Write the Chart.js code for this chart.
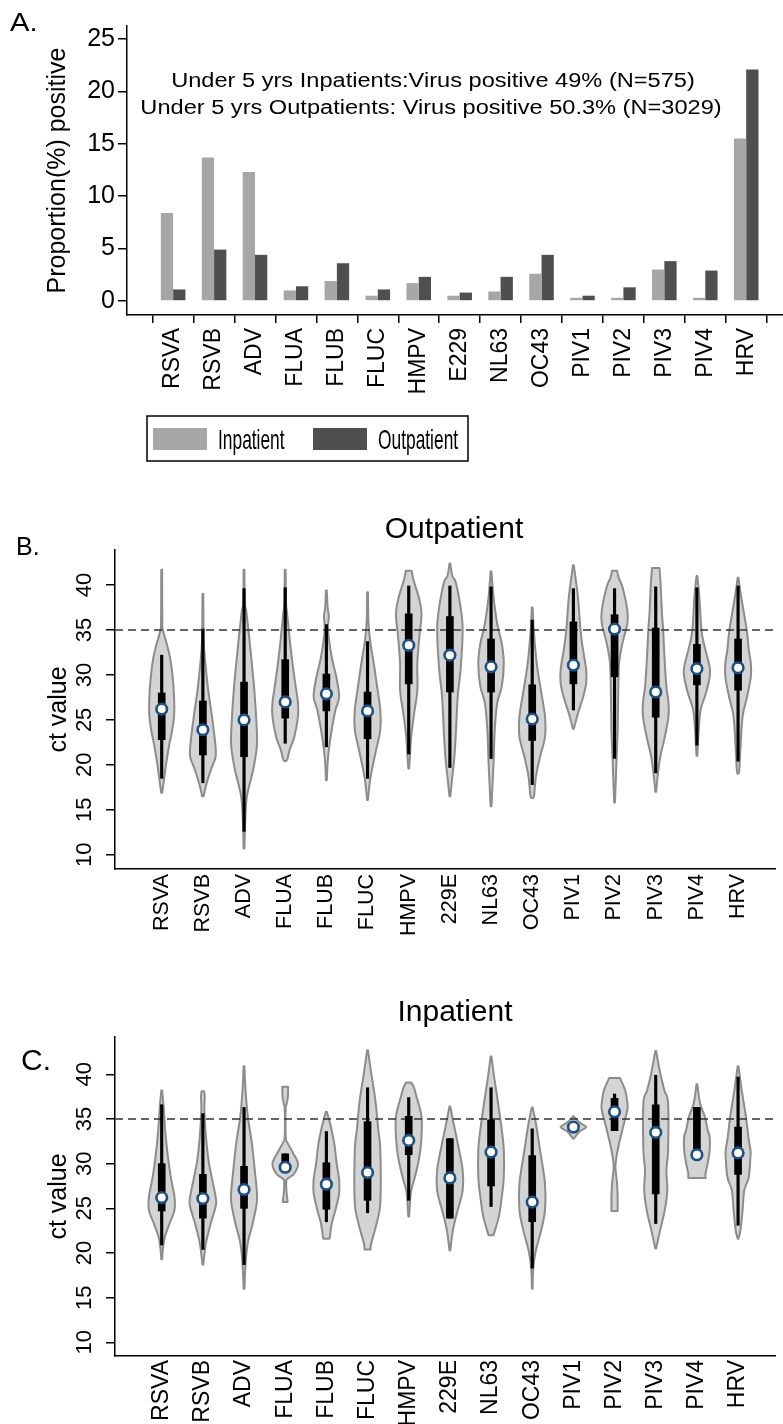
<!DOCTYPE html>
<html>
<head>
<meta charset="utf-8">
<title>Virus positivity and ct values</title>
<script src="https://cdn.jsdelivr.net/npm/chart.js@4.4.1/dist/chart.umd.min.js"></script>
<style>
  html, body { margin: 0; padding: 0; background: #fff; overflow: hidden; }
  #page { position: relative; width: 783px; height: 1424px; }
  #page canvas { position: absolute; left: 0; }
</style>
</head>
<body>
<div id="page">
  <canvas id="chartA" width="783" height="500" style="top:0"></canvas>
  <canvas id="chartB" width="783" height="460" style="top:500px"></canvas>
  <canvas id="chartC" width="783" height="464" style="top:960px"></canvas>
</div>
<script>
// ---- panel A: proportion positive ----
const viruses = ['RSVA', 'RSVB', 'ADV', 'FLUA', 'FLUB', 'FLUC', 'HMPV', 'E229', 'NL63', 'OC43', 'PIV1', 'PIV2', 'PIV3', 'PIV4', 'HRV'];
const inpatientPct = [8.4, 13.7, 12.3, 1.0, 1.9, 0.5, 1.7, 0.5, 0.9, 2.6, 0.3, 0.3, 3.0, 0.3, 15.5];
const outpatientPct = [1.1, 4.9, 4.4, 1.4, 3.6, 1.1, 2.3, 0.8, 2.3, 4.4, 0.5, 1.3, 3.8, 2.9, 22.1];
const pctTicks = [0, 5, 10, 15, 20, 25];

// ---- panels B and C: ct values ----
const ctViruses = ['RSVA', 'RSVB', 'ADV', 'FLUA', 'FLUB', 'FLUC', 'HMPV', '229E', 'NL63', 'OC43', 'PIV1', 'PIV2', 'PIV3', 'PIV4', 'HRV'];
const ctTicks = [10, 15, 20, 25, 30, 35, 40];
const ctCutoff = 35;

const outMedian = [26.2, 23.9, 25.0, 27.0, 27.9, 26.0, 33.3, 32.2, 30.9, 25.1, 31.1, 35.1, 28.1, 30.7, 30.8];
const outQ1 = [22.8, 21.1, 20.9, 25.2, 26.0, 22.9, 29.0, 28.1, 28.1, 22.7, 29.0, 29.8, 25.3, 28.9, 28.3];
const outQ3 = [28.0, 27.1, 29.2, 31.7, 30.1, 28.1, 36.8, 36.5, 34.0, 28.9, 35.9, 36.7, 35.2, 33.4, 34.0];
const outLow = [18.5, 18.0, 12.6, 22.4, 22.0, 18.5, 21.2, 19.7, 20.7, 17.8, 26.1, 20.7, 19.1, 22.2, 20.4];
const outHigh = [32.2, 35.1, 39.6, 39.7, 35.6, 33.7, 39.9, 39.9, 39.8, 36.1, 39.6, 39.6, 39.8, 39.7, 39.9];

const inMedian = [26.2, 26.1, 27.1, 29.6, 27.7, 29.0, 32.6, 28.4, 31.3, 25.7, 34.1, 35.8, 33.5, 31.0, 31.2];
const inQ1 = [24.7, 23.9, 25.0, 29.3, 24.9, 25.9, 31.0, 23.9, 27.5, 23.5, 34.1, 33.7, 26.6, 31.0, 28.8];
const inQ3 = [30.0, 28.8, 29.7, 31.1, 30.1, 34.7, 35.3, 32.8, 34.9, 30.9, 34.1, 37.3, 36.6, 36.3, 34.1];
const inLow = [20.9, 20.4, 18.7, 29.3, 23.5, 24.5, 25.9, 23.9, 25.2, 18.3, 34.1, 33.7, 23.3, 31.0, 23.1];
const inHigh = [36.6, 35.6, 36.3, 31.1, 33.6, 38.5, 37.4, 32.8, 38.5, 33.9, 34.1, 37.8, 39.9, 36.3, 39.7];

// violin outlines, [ct, half width in category units], top to bottom
const outShapes = [
  [[41.7, 0.01], [36, 0.015], [35, 0.03], [33.5, 0.12], [32, 0.2], [30, 0.26], [27.6, 0.3], [25.4, 0.3], [23.5, 0.24], [22.4, 0.19], [20.2, 0.11], [18, 0.045], [16.9, 0.012]],
  [[39, 0.01], [34, 0.02], [31.3, 0.06], [28.3, 0.13], [25.4, 0.22], [22.4, 0.3], [20.9, 0.31], [19.4, 0.19], [17.6, 0.07], [16.5, 0.02]],
  [[41.7, 0.01], [38, 0.02], [36.9, 0.06], [33.1, 0.15], [28.3, 0.25], [23.9, 0.31], [22, 0.31], [19.4, 0.22], [16.5, 0.07], [13.9, 0.03], [10.7, 0.01]],
  [[41.7, 0.01], [38, 0.02], [36.9, 0.045], [33.1, 0.13], [29.8, 0.22], [26.9, 0.31], [25.4, 0.31], [23.1, 0.22], [21.7, 0.11], [20.6, 0.05], [20.4, 0.01]],
  [[39.4, 0.01], [37.5, 0.03], [36.5, 0.06], [35, 0.04], [32, 0.13], [29.8, 0.24], [27.6, 0.31], [26.1, 0.22], [23.9, 0.13], [21.7, 0.06], [20.2, 0.03], [18.3, 0.01]],
  [[39.2, 0.01], [36, 0.02], [33.9, 0.06], [31.3, 0.15], [29.1, 0.22], [26.1, 0.31], [23.9, 0.31], [21.7, 0.21], [18.7, 0.075], [16.1, 0.01]],
  [[41.6, 0.07], [40.5, 0.12], [38.7, 0.24], [36.8, 0.31], [34.3, 0.26], [31.3, 0.21], [28.3, 0.21], [25.7, 0.13], [23.1, 0.06], [20.9, 0.03], [19.6, 0.01]],
  [[42.4, 0.01], [41, 0.06], [40.2, 0.15], [36.9, 0.28], [34.8, 0.31], [30.6, 0.26], [27.6, 0.19], [23.9, 0.15], [20.9, 0.11], [18.7, 0.06], [16.5, 0.01]],
  [[41.5, 0.01], [38.7, 0.06], [35.7, 0.15], [33.5, 0.26], [31.3, 0.31], [28.7, 0.26], [26.9, 0.15], [23.9, 0.09], [20.2, 0.06], [17.2, 0.03], [15.4, 0.01]],
  [[37.5, 0.01], [35, 0.037], [31.3, 0.11], [28.3, 0.21], [25.4, 0.31], [23.1, 0.31], [20.9, 0.19], [18.7, 0.09], [16.6, 0.045], [16.3, 0.01]],
  [[42.2, 0.01], [38.7, 0.11], [35.7, 0.16], [33.5, 0.21], [30.6, 0.31], [29.1, 0.31], [27.6, 0.24], [25.7, 0.11], [24.0, 0.01]],
  [[41.6, 0.06], [40.8, 0.1], [39.8, 0.19], [37.2, 0.31], [35.7, 0.31], [33.5, 0.19], [31.3, 0.11], [28.3, 0.09], [23.9, 0.075], [20.2, 0.045], [15.8, 0.01]],
  [[41.9, 0.09], [40, 0.12], [37, 0.15], [35, 0.18], [31.3, 0.22], [28.7, 0.26], [26.9, 0.31], [25.4, 0.31], [23.1, 0.22], [20.9, 0.11], [18.7, 0.045], [17, 0.01]],
  [[41.0, 0.01], [38.7, 0.06], [35, 0.11], [33.1, 0.19], [30.9, 0.31], [29.8, 0.31], [28, 0.22], [26.1, 0.09], [23.9, 0.045], [21, 0.01]],
  [[40.8, 0.01], [38.7, 0.075], [35, 0.21], [32.8, 0.26], [31.3, 0.31], [29.8, 0.31], [27.6, 0.22], [25.4, 0.11], [22, 0.06], [19.4, 0.03], [19.0, 0.01]]
];

const inShapes = [
  [[38.2, 0.01], [36.4, 0.045], [33.4, 0.09], [30.8, 0.15], [28.5, 0.22], [26.3, 0.31], [24.8, 0.31], [23.3, 0.19], [21.8, 0.075], [20.5, 0.03], [19.3, 0.01]],
  [[38.1, 0.03], [37.5, 0.045], [36, 0.037], [33, 0.075], [30, 0.15], [26.3, 0.31], [25.2, 0.31], [23.3, 0.19], [21.1, 0.075], [18.7, 0.01]],
  [[40.9, 0.01], [38.2, 0.037], [35.3, 0.09], [32.3, 0.19], [29.3, 0.26], [27, 0.31], [25.6, 0.31], [23.3, 0.21], [21.1, 0.09], [18.8, 0.037], [16, 0.01]],
  [[38.6, 0.07], [37.5, 0.065], [36.6, 0.03], [36.2, 0.012], [33, 0.012], [32.3, 0.06], [31.2, 0.19], [30.0, 0.31], [28.9, 0.22], [28.3, 0.05], [28.0, 0.025], [27, 0.03], [26.3, 0.045], [25.7, 0.06]],
  [[35.8, 0.01], [34.5, 0.09], [32.3, 0.19], [30, 0.25], [28.2, 0.31], [26.7, 0.31], [24.8, 0.22], [23.3, 0.13], [22.0, 0.09], [21.6, 0.075]],
  [[42.7, 0.01], [40.1, 0.09], [37.1, 0.19], [33.8, 0.26], [31.5, 0.31], [25.6, 0.31], [23.3, 0.22], [21.1, 0.09], [20.4, 0.075]],
  [[39.1, 0.06], [38.6, 0.12], [37.5, 0.19], [35.3, 0.31], [33, 0.31], [30.8, 0.26], [28.5, 0.15], [27, 0.06], [25.6, 0.03], [24.1, 0.01]],
  [[36.4, 0.01], [34.5, 0.09], [32.3, 0.19], [29.3, 0.31], [27, 0.31], [24.8, 0.19], [22.6, 0.075], [20.3, 0.01]],
  [[42.0, 0.01], [39.7, 0.075], [37.1, 0.16], [33.8, 0.26], [31.5, 0.31], [28.5, 0.31], [26.3, 0.26], [24.1, 0.19], [22.3, 0.08], [22.0, 0.06]],
  [[36.3, 0.01], [34.5, 0.09], [31.5, 0.19], [27.8, 0.31], [24.8, 0.31], [22.6, 0.22], [20, 0.075], [18.1, 0.022], [16, 0.01]],
  [[35.3, 0.01], [34.6, 0.15], [34.1, 0.31], [33.6, 0.15], [32.8, 0.01]],
  [[39.6, 0.13], [38.2, 0.26], [36.8, 0.31], [36, 0.31], [33.8, 0.19], [31.5, 0.075], [29.7, 0.022], [27.8, 0.06], [26.3, 0.075], [24.7, 0.075]],
  [[42.6, 0.01], [40.1, 0.11], [38.2, 0.21], [36.8, 0.3], [31.5, 0.3], [29.3, 0.26], [27, 0.28], [24.8, 0.22], [22.6, 0.11], [20.5, 0.01]],
  [[38.9, 0.01], [36.8, 0.075], [35.3, 0.19], [33.8, 0.26], [33, 0.31], [31.5, 0.31], [30, 0.26], [28.9, 0.21], [28.4, 0.21]],
  [[40.9, 0.01], [38.2, 0.09], [35.3, 0.19], [33, 0.25], [31.5, 0.3], [30.8, 0.3], [28.5, 0.26], [27, 0.15], [24.8, 0.11], [22.6, 0.06], [21.6, 0.01]]
];

Chart.defaults.font.family = "'Liberation Sans', Arial, Helvetica, sans-serif";
Chart.defaults.color = '#000';
Chart.defaults.animation = false;

// free text (panel letters, titles, notes); sx squeezes or stretches glyphs
const panelText = {
  id: 'panelText',
  afterDraw(chart, args, opts) {
    const ctx = chart.ctx;
    (opts.items || []).forEach(t => {
      ctx.save();
      ctx.font = t.font;
      ctx.fillStyle = '#000';
      ctx.textAlign = t.align || 'left';
      ctx.textBaseline = 'alphabetic';
      ctx.translate(t.x, t.y);
      ctx.scale(t.sx || 1, 1);
      ctx.fillText(t.text, 0, 0);
      ctx.restore();
    });
  }
};

// boxed legend under panel A
const boxLegend = {
  id: 'boxLegend',
  afterDraw(chart, args, o) {
    if (!o.width) return;
    const ctx = chart.ctx;
    ctx.save();
    ctx.strokeStyle = '#000';
    ctx.lineWidth = 1.5;
    ctx.strokeRect(o.left, o.top, o.width, o.height);
    chart.data.datasets.forEach((ds, i) => {
      const sx = o.left + o.itemX[i];
      ctx.fillStyle = ds.backgroundColor;
      ctx.fillRect(sx, o.top + 12, 54, 22);
      ctx.save();
      ctx.fillStyle = '#000';
      ctx.font = o.font;
      ctx.textBaseline = 'alphabetic';
      ctx.translate(sx + 65, o.top + 33);
      ctx.scale(o.squeeze, 1);
      ctx.fillText(ds.label, 0, 0);
      ctx.restore();
    });
    ctx.restore();
  }
};

function splineThrough(ctx, pts) {
  for (let i = 0; i < pts.length - 1; i++) {
    const p0 = pts[i - 1] || pts[i], p1 = pts[i], p2 = pts[i + 1], p3 = pts[i + 2] || p2;
    ctx.bezierCurveTo(
      p1[0] + (p2[0] - p0[0]) / 6, p1[1] + (p2[1] - p0[1]) / 6,
      p2[0] - (p3[0] - p1[0]) / 6, p2[1] - (p3[1] - p1[1]) / 6,
      p2[0], p2[1]);
  }
}

// violins + cutoff line, under the box/median datasets
const violins = {
  id: 'violins',
  beforeDatasetsDraw(chart, args, o) {
    if (!o.shapes) return;
    const { ctx, chartArea } = chart;
    const xs = chart.scales.x, ys = chart.scales.y;
    ctx.save();
    o.shapes.forEach((shape, i) => {
      const right = shape.map(([v, w]) => [xs.getPixelForValue(i + w), ys.getPixelForValue(v)]);
      const left = shape.map(([v, w]) => [xs.getPixelForValue(i - w), ys.getPixelForValue(v)]).reverse();
      ctx.beginPath();
      ctx.moveTo(right[0][0], right[0][1]);
      splineThrough(ctx, right);
      ctx.lineTo(left[0][0], left[0][1]);
      splineThrough(ctx, left);
      ctx.closePath();
      ctx.fillStyle = '#d4d4d4';
      ctx.fill();
      ctx.lineWidth = 2;
      ctx.lineJoin = 'round';
      ctx.strokeStyle = '#8c8c8c';
      ctx.stroke();
    });
    const yc = ys.getPixelForValue(o.cutoff);
    ctx.beginPath();
    ctx.setLineDash([8, 5]);
    ctx.lineWidth = 1.3;
    ctx.strokeStyle = '#333';
    ctx.moveTo(chartArea.left, yc);
    ctx.lineTo(chartArea.right, yc);
    ctx.stroke();
    ctx.restore();
  }
};

function noPad(s) {
  s.paddingLeft = 0; s.paddingRight = 0; s.paddingTop = 0; s.paddingBottom = 0;
}

// ---------- A ----------
new Chart(document.getElementById('chartA'), {
  type: 'bar',
  data: {
    datasets: [
      { label: 'Inpatient', data: inpatientPct.map((v, i) => ({ x: i, y: v })), backgroundColor: '#a6a6a6', borderWidth: 0 },
      { label: 'Outpatient', data: outpatientPct.map((v, i) => ({ x: i, y: v })), backgroundColor: '#4f4f4f', borderWidth: 0 }
    ]
  },
  options: {
    responsive: false,
    categoryPercentage: 0.6,
    barPercentage: 1,
    layout: { padding: { top: 26, left: 0, right: 0, bottom: 0 } },
    plugins: {
      legend: { display: false },
      tooltip: { enabled: false },
      panelText: {
        items: [
          { text: 'A.', x: 10, y: 31, font: '26px "Liberation Sans", Arial, sans-serif', sx: 1.12 },
          { text: 'Under 5 yrs Inpatients:Virus positive 49% (N=575)', x: 433, y: 87, align: 'center', font: '20px "Liberation Sans", Arial, sans-serif', sx: 1.18 },
          { text: 'Under 5 yrs Outpatients: Virus positive 50.3% (N=3029)', x: 431, y: 114, align: 'center', font: '20px "Liberation Sans", Arial, sans-serif', sx: 1.18 }
        ]
      },
      boxLegend: { left: 147, top: 416, width: 321, height: 45, itemX: [6, 166], font: '28px "Liberation Sans", Arial, sans-serif', squeeze: 0.62 }
    },
    scales: {
      x: {
        type: 'linear', min: -0.593, max: 14.365, bounds: 'data',
        afterBuildTicks: s => { s.ticks = viruses.map((_, i) => ({ value: i })); },
        afterFit: s => { s.height = 185; noPad(s); },
        ticks: { autoSkip: false, minRotation: 90, maxRotation: 90, padding: 5, font: { size: 23 }, callback: v => viruses[v] },
        grid: { drawOnChartArea: false, drawTicks: true, tickLength: 8, color: '#000', lineWidth: 1.5 },
        border: { display: true, color: '#000', width: 1.5 }
      },
      y: {
        min: -1.34, max: 26.24, bounds: 'data',
        afterBuildTicks: s => { s.ticks = pctTicks.map(v => ({ value: v })); },
        afterFit: s => { s.width = 127; noPad(s); },
        ticks: { padding: 3, font: { size: 25 } },
        grid: { drawOnChartArea: false, drawTicks: true, tickLength: 9, color: '#000', lineWidth: 1.5 },
        border: { display: true, color: '#000', width: 1.5 },
        title: { display: true, text: 'Proportion(%) positive', font: { size: 25 }, padding: { top: 43, bottom: 0 } }
      }
    }
  },
  plugins: [panelText, boxLegend]
});

// ---------- B and C ----------
function violinChart(id, p) {
  return new Chart(document.getElementById(id), {
    type: 'bar',
    data: {
      datasets: [
        { type: 'scatter', label: 'Median', data: p.median.map((v, i) => ({ x: i, y: v })), order: 0,
          pointRadius: 5.3, pointHoverRadius: 5.3, pointBackgroundColor: '#fff', pointBorderColor: '#1d4f80', pointBorderWidth: 2.6 },
        { label: 'IQR', data: p.q1.map((v, i) => ({ x: i, y: [v, p.q3[i]] })), backgroundColor: '#000', barThickness: 7, grouped: false, order: 1 },
        { label: 'Range', data: p.low.map((v, i) => ({ x: i, y: [v, p.high[i]] })), backgroundColor: '#000', barThickness: 2.5, grouped: false, order: 2 }
      ]
    },
    options: {
      responsive: false,
      layout: { padding: { top: p.top, left: 0, right: 0, bottom: 0 } },
      plugins: {
        legend: { display: false },
        tooltip: { enabled: false },
        violins: { shapes: p.shapes, cutoff: ctCutoff },
        panelText: { items: p.text }
      },
      scales: {
        x: {
          type: 'linear', min: -0.6, max: 14.365, bounds: 'data',
          afterBuildTicks: s => { s.ticks = ctViruses.map((_, i) => ({ value: i })); },
          afterFit: s => { s.height = p.xHeight; noPad(s); },
          ticks: { autoSkip: false, minRotation: 90, maxRotation: 90, padding: p.labelPad, font: { size: p.labelSize }, callback: v => ctViruses[v] },
          grid: { display: false, drawTicks: false },
          border: { display: true, color: '#000', width: 1.5 }
        },
        y: {
          min: p.yMin, max: p.yMax, bounds: 'data',
          afterBuildTicks: s => { s.ticks = ctTicks.map(v => ({ value: v })); },
          afterFit: s => { s.width = 115; noPad(s); },
          ticks: { minRotation: 90, maxRotation: 90, crossAlign: 'center', padding: 9, font: { size: 22 } },
          grid: { drawOnChartArea: false, drawTicks: true, tickLength: 9, color: '#000', lineWidth: 1.5 },
          border: { display: true, color: '#000', width: 1.5 },
          title: { display: true, text: 'ct value', font: { size: 25 }, padding: { top: 44, bottom: 0 } }
        }
      }
    },
    plugins: [violins, panelText]
  });
}

violinChart('chartB', {
  median: outMedian, q1: outQ1, q3: outQ3, low: outLow, high: outHigh, shapes: outShapes,
  top: 50, xHeight: 91, yMin: 8.41, yMax: 43.9, labelSize: 21.5, labelPad: 5,
  text: [
    { text: 'B.', x: 16, y: 55, font: '25px "Liberation Sans", Arial, sans-serif' },
    { text: 'Outpatient', x: 454, y: 38, align: 'center', font: '30px "Liberation Sans", Arial, sans-serif' }
  ]
});

violinChart('chartC', {
  median: inMedian, q1: inQ1, q3: inQ3, low: inLow, high: inHigh, shapes: inShapes,
  top: 77, xHeight: 68, yMin: 8.47, yMax: 44.18, labelSize: 23, labelPad: 4,
  text: [
    { text: 'C.', x: 21, y: 110, font: '30px "Liberation Sans", Arial, sans-serif' },
    { text: 'Inpatient', x: 455, y: 61, align: 'center', font: '30px "Liberation Sans", Arial, sans-serif' }
  ]
});
</script>
</body>
</html>
